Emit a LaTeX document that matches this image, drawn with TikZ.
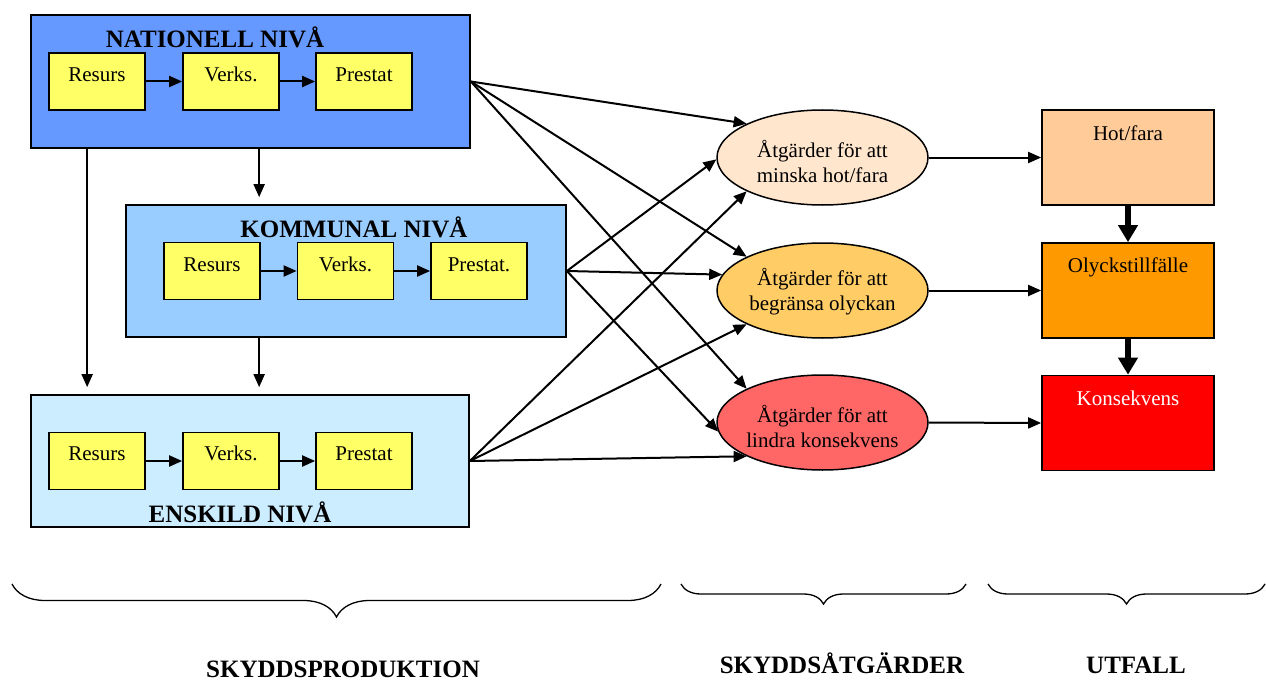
\documentclass[tikz,border=0pt]{standalone}
\usepackage{fontspec}
\setmainfont{Liberation Serif}
\usetikzlibrary{arrows.meta,shapes.geometric,decorations.pathreplacing,calc}

\definecolor{natblue}{HTML}{6699FF}
\definecolor{komblue}{HTML}{99CCFF}
\definecolor{ensblue}{HTML}{CCECFF}
\definecolor{stepyellow}{HTML}{FFFF66}
\definecolor{peachlight}{HTML}{FFE6CC}
\definecolor{goldish}{HTML}{FFCC66}
\definecolor{salmon}{HTML}{FF6666}
\definecolor{peach}{HTML}{FFCC99}
\definecolor{orange}{HTML}{FF9900}
\definecolor{pure red}{HTML}{FF0000}

\begin{document}
\begin{tikzpicture}[x=1pt,y=-1pt,
  levelbox/.style={draw=black,line width=1.7pt,rectangle,inner sep=0pt},
  stepbox/.style={draw=black,line width=1.7pt,rectangle,fill=stepyellow,
                  minimum width=96pt,minimum height=57pt,inner sep=0pt},
  bodytext/.style={font=\fontsize{21}{25}\selectfont,inner sep=0pt},
  steptext/.style={bodytext,anchor=base},
  titletext/.style={font=\fontsize{25}{28}\selectfont\bfseries,anchor=base,inner sep=0pt},
  measure/.style={ellipse,draw=black,line width=1.5pt,minimum width=211pt,
                  minimum height=95pt,inner sep=0pt},
  measuretext/.style={bodytext,align=center},
  outcome/.style={draw=black,line width=1.7pt,rectangle,minimum width=172pt,
                  minimum height=95pt,inner sep=0pt},
  arr/.style={line width=2pt,-{Triangle[length=13pt,width=11pt]}},
  thickarr/.style={line width=6pt,-{Triangle[length=17pt,width=19pt]}},
  bigbrace/.style={decorate,decoration={brace,mirror,amplitude=33pt},line width=1.3pt},
  smallbrace/.style={decorate,decoration={brace,mirror,amplitude=20pt},line width=1.3pt}
]
\useasboundingbox (0,0) rectangle (1266,682);

% ---- production levels ----
\node[levelbox,fill=natblue,minimum width=439pt,minimum height=133pt] (nat) at (250.5,81.5) {};
\node[levelbox,fill=komblue,minimum width=440pt,minimum height=132pt] (kom) at (346,271) {};
\node[levelbox,fill=ensblue,minimum width=438pt,minimum height=132pt] (ens) at (250,461) {};

\node[titletext] (natt) at (215,48) {NATIONELL NIVÅ};
\node[titletext] (komt) at (354,237) {KOMMUNAL NIVÅ};
\node[titletext] (enst) at (240,522) {ENSKILD NIVÅ};

% national chain
\node[stepbox] (n1) at (97,81.5) {};
\node[stepbox] (n2) at (231,81.5) {};
\node[stepbox] (n3) at (364,81.5) {};
\node[steptext] (n1t) at ([yshift=-29pt]n1.north) {Resurs};
\node[steptext] (n2t) at ([yshift=-29pt]n2.north) {Verks.};
\node[steptext] (n3t) at ([yshift=-29pt]n3.north) {Prestat};
\draw[arr] (n1.east) -- (n2.west);
\draw[arr] (n2.east) -- (n3.west);

% municipal chain
\node[stepbox] (k1) at (212,271) {};
\node[stepbox] (k2) at (345.5,271) {};
\node[stepbox] (k3) at (479,271) {};
\node[steptext] (k1t) at ([yshift=-30pt]k1.north) {Resurs};
\node[steptext] (k2t) at ([yshift=-30pt]k2.north) {Verks.};
\node[steptext] (k3t) at ([yshift=-30pt]k3.north) {Prestat.};
\draw[arr] (k1.east) -- (k2.west);
\draw[arr] (k2.east) -- (k3.west);

% individual chain
\node[stepbox] (e1) at (97,461) {};
\node[stepbox] (e2) at (231,461) {};
\node[stepbox] (e3) at (364,461) {};
\node[steptext] (e1t) at ([yshift=-29pt]e1.north) {Resurs};
\node[steptext] (e2t) at ([yshift=-29pt]e2.north) {Verks.};
\node[steptext] (e3t) at ([yshift=-29pt]e3.north) {Prestat};
\draw[arr] (e1.east) -- (e2.west);
\draw[arr] (e2.east) -- (e3.west);

% links between levels
\draw[arr,shorten >=7pt] ([xshift=57pt]nat.south west) coordinate (pa) -- (pa |- ens.north);
\draw[arr,shorten >=7pt] ([xshift=229pt]nat.south west) coordinate (pb) -- (pb |- kom.north);
\draw[arr,shorten >=7pt] ([xshift=134pt]kom.south west) coordinate (pc) -- (pc |- ens.north);

% ---- protective measures ----
\node[measure,fill=peachlight] (m1) at (822.5,157.5) {};
\node[measure,fill=goldish] (m2) at (822.5,290.5) {};
\node[measure,fill=salmon] (m3) at (822.5,422.5) {};
\node[measuretext] (m1t) at ([yshift=-4pt]m1.center) {Åtgärder för att\\minska hot/fara};
\node[measuretext] (m2t) at ([yshift=-1pt]m2.center) {Åtgärder för att\\begränsa olyckan};
\node[measuretext] (m3t) at ([yshift=-4pt]m3.center) {Åtgärder för att\\lindra konsekvens};

\draw[arr] (nat.east) -- (m1.156);
\draw[arr] (nat.east) -- (m2.156);
\draw[arr] (nat.east) -- (m3.156);
\draw[arr] (kom.east) -- (m1.181);
\draw[arr] (kom.east) -- (m2.171);
\draw[arr] (kom.east) -- (m3.185);
\draw[arr] (ens.east) -- (m1.204);
\draw[arr] (ens.east) -- (m2.204);
\draw[arr] (ens.east) -- (m3.204);

% ---- outcomes ----
\node[outcome,fill=peach] (o1) at (1128,157.5) {};
\node[outcome,fill=orange] (o2) at (1128,290.5) {};
\node[outcome,fill=pure red] (o3) at (1128,423) {};
\node[steptext] (o1t) at ([yshift=-31pt]o1.north) {Hot/fara};
\node[steptext] (o2t) at ([yshift=-30pt]o2.north) {Olyckstillfälle};
\node[steptext,text=white] (o3t) at ([yshift=-31pt]o3.north) {Konsekvens};

\draw[arr] (m1.east) -- (o1.west);
\draw[arr] (m2.east) -- (o2.west);
\draw[arr] (m3.east) -- (o3.west);
\draw[thickarr] (o1.south) -- (o2.north);
\draw[thickarr] (o2.south) -- (o3.north);

% ---- grouping braces ----
\draw[bigbrace] (12,584) -- (661,584);
\draw[smallbrace] (681,584) -- (966,584);
\draw[smallbrace] (988,584) -- (1265,584);

\node[titletext] (g1) at (343,677) {SKYDDSPRODUKTION};
\node[titletext] (g2) at (842,673) {SKYDDSÅTGÄRDER};
\node[titletext] (g3) at (1136,673) {UTFALL};
\end{tikzpicture}
\end{document}
